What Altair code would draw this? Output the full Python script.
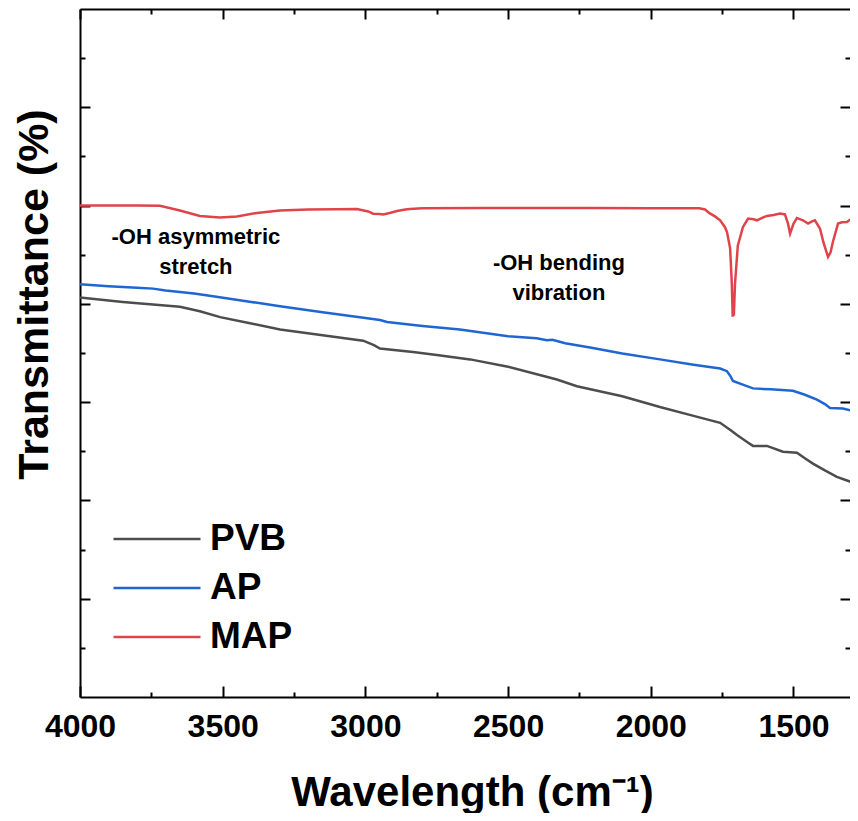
import altair as alt
import pandas as pd

FONT = "Liberation Sans"

series_names = ["PVB", "AP", "MAP"]
series_colors = ["#4d4d4d", "#1f66d2", "#e0444b"]

pvb_wn = [4000, 3850, 3650, 3580, 3509, 3400, 3299, 3150, 3008, 2970, 2949, 2900, 2833,
          2750, 2633, 2500, 2329, 2259, 2100, 1968, 1850, 1757, 1720, 1698, 1660, 1642,
          1593, 1537, 1488, 1460, 1432, 1390, 1348, 1310, 1275]
pvb_t = [81.3, 80.4, 79.4, 78.5, 77.3, 76.0, 74.8, 73.6, 72.5, 71.6, 70.9, 70.6, 70.2,
         69.6, 68.7, 67.2, 64.6, 63.25, 61.2, 59.0, 57.2, 55.8, 54.3, 53.3, 51.8, 51.1,
         51.1, 49.9, 49.7, 48.6, 47.5, 46.1, 44.8, 44.0, 43.3]

ap_wn = [4000, 3900, 3800, 3744, 3700, 3600, 3534, 3400, 3299, 3150, 3000, 2949, 2924,
         2800, 2669, 2500, 2400, 2364, 2345, 2300, 2203, 2100, 1968, 1850, 1757, 1733,
         1720, 1712, 1680, 1642, 1580, 1502, 1460, 1418, 1390, 1372, 1327, 1275]
ap_t = [84.0, 83.6, 83.3, 83.1, 82.7, 82.1, 81.55, 80.4, 79.5, 78.3, 77.1, 76.7, 76.3,
        75.5, 74.8, 73.4, 73.0, 72.6, 72.7, 72.0, 71.0, 69.9, 68.7, 67.6, 66.85, 66.3,
        65.2, 64.3, 63.6, 62.8, 62.6, 62.3, 61.5, 60.5, 59.6, 58.8, 58.7, 58.0]

map_wn = [4000, 3900, 3800, 3720, 3650, 3580, 3510, 3450, 3380, 3300, 3200, 3100, 3030,
          2990, 2973, 2950, 2938, 2915, 2889, 2860, 2844, 2800, 2600, 2400, 2200, 2000,
          1900, 1830, 1810, 1793, 1775, 1757, 1740, 1733, 1722, 1716, 1713, 1711, 1709,
          1705, 1695, 1677, 1659, 1640, 1628, 1610, 1593, 1570, 1547, 1530, 1520, 1512,
          1500, 1488, 1467, 1449, 1435, 1425, 1407, 1395, 1379, 1370, 1362, 1344, 1330,
          1313, 1295, 1275]
map_t = [100.0, 100.0, 100.0, 99.95, 99.0, 97.9, 97.55, 97.8, 98.5, 99.0, 99.2, 99.25, 99.3,
         98.8, 98.35, 98.3, 98.2, 98.5, 98.9, 99.2, 99.3, 99.45, 99.5, 99.5, 99.5, 99.45,
         99.45, 99.45, 99.2, 98.4, 97.8, 97.0, 95.6, 94.6, 91.3, 84.0, 77.4, 80.5, 77.6,
         84.0, 91.9, 95.65, 97.36, 97.2, 97.0, 97.5, 97.9, 98.1, 98.37, 98.2, 96.5, 94.3,
         96.3, 97.48, 97.0, 96.34, 96.8, 97.0, 95.3, 92.5, 89.55, 90.5, 92.6, 96.34, 96.6,
         96.67, 97.36, 96.67]

ann_text = ["-OH asymmetric", "stretch", "-OH bending", "vibration"]
ann_wn = [3594, 3594, 2322, 2322]
ann_t = [93.6, 87.5, 88.3, 82.2]

x_domain = [1302, 4000]
y_domain = [0, 140]
x_major = [4000, 3500, 3000, 2500, 2000, 1500]
x_minor = [3750, 3250, 2750, 2250, 1750]
y_major = [20, 40, 60, 80, 100, 120]
y_minor = [10, 30, 50, 70, 90, 110, 130]

rows = []
for name, wns, ts in [("PVB", pvb_wn, pvb_t), ("AP", ap_wn, ap_t), ("MAP", map_wn, map_t)]:
    for w, t in zip(wns, ts):
        rows.append({"series": name, "wn": w, "t": t})
df = pd.DataFrame(rows)
ann = pd.DataFrame({"label": ann_text, "wn": ann_wn, "t": ann_t})

xs = alt.Scale(domain=x_domain, reverse=True, nice=False, zero=False)
ys = alt.Scale(domain=y_domain, nice=False, zero=False)

tick_common = dict(grid=False, domain=False, tickColor="black", tickWidth=2, labels=False)


def tick_axis(orient, values, size):
    return alt.Axis(orient=orient, values=values, tickSize=size, offset=-size,
                    title=None, **tick_common)


def domain_axis(orient):
    return alt.Axis(orient=orient, ticks=False, labels=False, grid=False, domain=True,
                    domainColor="black", domainWidth=2, title=None)


lines = alt.Chart(df).mark_line(strokeWidth=2.5, clip=True).encode(
    x=alt.X("wn:Q", scale=xs, axis=alt.Axis(
        orient="bottom", values=x_major, tickSize=11, offset=-11, grid=False, domain=False,
        tickColor="black", tickWidth=2, format="d", labelFlush=False, labelOverlap=False,
        labelFont=FONT, labelFontSize=32, labelFontWeight="bold", labelColor="black",
        labelBaseline="alphabetic", labelPadding=39,
        title="Wavelength (cm\u207b\u00b9)", titleFont=FONT, titleFontSize=42,
        titleFontWeight="bold", titleColor="black", titleBaseline="alphabetic", titleY=119,
        titleX=392)),
    y=alt.Y("t:Q", scale=ys, axis=alt.Axis(
        orient="left", values=y_major, tickSize=10, offset=-10, grid=False, domain=False,
        tickColor="black", tickWidth=2, labels=False,
        title="Transmittance (%)", titleFont=FONT, titleFontSize=43, titleFontWeight="bold",
        titleColor="black", titleBaseline="alphabetic", titleX=-43, titleY=285)),
    color=alt.Color("series:N", scale=alt.Scale(domain=series_names, range=series_colors),
                    sort=series_names,
                    legend=alt.Legend(orient="none", legendX=32, legendY=510, title=None,
                                      symbolType="stroke", symbolSize=7569,
                                      symbolStrokeWidth=2.5, labelFont=FONT,
                                      labelFontSize=37, labelFontWeight="bold",
                                      labelColor="black", labelOffset=8, clipHeight=40,
                                      rowPadding=9, padding=0)),
)


def hidden(xaxis, yaxis):
    return alt.Chart(df).mark_line(strokeOpacity=0).encode(
        x=alt.X("wn:Q", scale=xs, axis=xaxis),
        y=alt.Y("t:Q", scale=ys, axis=yaxis),
    )


l2 = hidden(tick_axis("bottom", x_minor, 5), tick_axis("left", y_minor, 5))
l3 = hidden(tick_axis("top", x_major, 10), tick_axis("right", y_major, 10))
l4 = hidden(tick_axis("top", x_minor, 5), tick_axis("right", y_minor, 5))
l5 = hidden(domain_axis("bottom"), domain_axis("left"))
l6 = hidden(domain_axis("top"), None)

texts = alt.Chart(ann).mark_text(font=FONT, fontSize=22, fontWeight="bold", color="black",
                                 align="center", baseline="middle").encode(
    x=alt.X("wn:Q", scale=xs, axis=None),
    y=alt.Y("t:Q", scale=ys, axis=None),
    text="label:N",
)

chart = alt.layer(lines, l2, l3, l4, l5, l6, texts).resolve_axis(
    x="independent", y="independent"
).properties(
    width=770, height=688,
    autosize=alt.AutoSizeParams(type="none"),
    padding={"left": 72, "top": 1, "right": 0, "bottom": 116},
    background="white",
).configure_view(stroke=None)

chart.save("out.html", embed_options={"renderer": "svg", "actions": False})
